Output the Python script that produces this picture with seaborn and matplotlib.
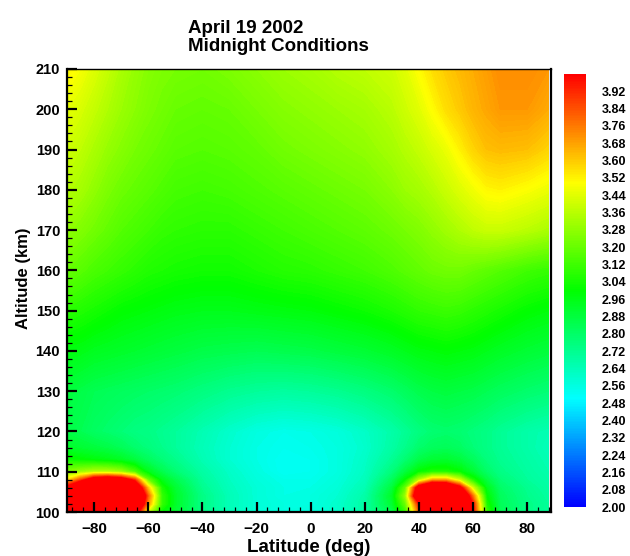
import numpy as np
import matplotlib
matplotlib.use("Agg")
import matplotlib.pyplot as plt
from matplotlib.colors import Normalize
from matplotlib.cm import ScalarMappable
from matplotlib.ticker import MultipleLocator
import seaborn as sns

# Grid nodes
latitudes = [-90, -85, -80, -75, -70, -65, -60, -55, -50, -40, -30, -20, -10, 0,
             10, 20, 30, 35, 40, 45, 50, 55, 60, 65, 70, 80, 87.75]
altitudes = [100, 102, 104, 106, 108, 110, 113, 116, 120, 130, 140, 150, 160,
             170, 180, 190, 200, 210]

# Field values along each altitude level (one entry per latitude node)
lvl_100 = [4.8, 5.0, 5.0, 5.0, 4.8, 4.2, 3.4, 3.0, 2.9, 2.74, 2.64, 2.58, 2.56, 2.57,
           2.6, 2.68, 2.85, 3.1, 3.8, 4.7, 4.8, 4.7, 4.0, 3.1, 2.84, 2.74, 2.70]
lvl_102 = [4.8, 5.0, 5.1, 5.1, 5.0, 4.6, 3.7, 3.1, 2.92, 2.74, 2.64, 2.58, 2.56, 2.56,
           2.6, 2.68, 2.9, 3.2, 3.95, 4.9, 4.9, 4.7, 3.95, 3.05, 2.83, 2.74, 2.70]
lvl_104 = [4.6, 4.9, 5.0, 5.0, 4.9, 4.7, 3.8, 3.1, 2.92, 2.74, 2.64, 2.58, 2.55, 2.56,
           2.59, 2.67, 2.92, 3.3, 4.4, 4.8, 4.8, 4.5, 3.75, 3.0, 2.82, 2.73, 2.69]
lvl_106 = [4.1, 4.5, 4.7, 4.8, 4.7, 4.4, 3.6, 3.05, 2.9, 2.72, 2.63, 2.58, 2.55, 2.55,
           2.58, 2.65, 2.88, 3.2, 4.2, 4.6, 4.5, 4.1, 3.4, 2.95, 2.8, 2.72, 2.68]
lvl_108 = [3.55, 3.85, 4.2, 4.3, 4.2, 3.9, 3.2, 2.95, 2.85, 2.70, 2.62, 2.57, 2.54, 2.54,
           2.57, 2.63, 2.82, 3.0, 3.35, 3.65, 3.65, 3.4, 3.05, 2.87, 2.77, 2.70, 2.67]
lvl_110 = [3.25, 3.30, 3.35, 3.35, 3.30, 3.15, 2.95, 2.85, 2.78, 2.68, 2.61, 2.56, 2.52, 2.53,
           2.56, 2.62, 2.76, 2.88, 3.0, 3.05, 3.05, 3.0, 2.9, 2.8, 2.74, 2.69, 2.66]
lvl_113 = [3.02, 3.0, 2.98, 2.96, 2.93, 2.88, 2.82, 2.77, 2.73, 2.65, 2.59, 2.55, 2.52, 2.53,
           2.56, 2.61, 2.71, 2.78, 2.86, 2.9, 2.91, 2.88, 2.82, 2.76, 2.72, 2.68, 2.65]
lvl_116 = [2.92, 2.90, 2.88, 2.86, 2.83, 2.79, 2.76, 2.73, 2.70, 2.64, 2.59, 2.55, 2.53, 2.54,
           2.56, 2.60, 2.68, 2.73, 2.79, 2.82, 2.83, 2.81, 2.77, 2.74, 2.71, 2.67, 2.64]
lvl_120 = [2.86, 2.84, 2.81, 2.79, 2.77, 2.75, 2.74, 2.72, 2.70, 2.65, 2.60, 2.56, 2.54, 2.55,
           2.57, 2.61, 2.67, 2.71, 2.75, 2.78, 2.79, 2.78, 2.76, 2.74, 2.71, 2.67, 2.65]
lvl_130 = [2.88, 2.86, 2.84, 2.83, 2.82, 2.81, 2.80, 2.79, 2.78, 2.75, 2.72, 2.70, 2.69, 2.70,
           2.72, 2.75, 2.79, 2.82, 2.85, 2.87, 2.88, 2.87, 2.86, 2.84, 2.82, 2.79, 2.77]
lvl_140 = [2.97, 2.96, 2.94, 2.93, 2.92, 2.91, 2.90, 2.89, 2.88, 2.86, 2.85, 2.84, 2.85, 2.86,
           2.88, 2.90, 2.93, 2.95, 2.97, 2.98, 2.99, 2.98, 2.97, 2.95, 2.93, 2.90, 2.88]
lvl_150 = [3.08, 3.06, 3.04, 3.02, 3.0, 2.99, 2.98, 2.97, 2.96, 2.95, 2.95, 2.96, 2.97, 2.98,
           3.0, 3.02, 3.05, 3.07, 3.09, 3.10, 3.11, 3.10, 3.08, 3.06, 3.04, 3.0, 2.98]
lvl_160 = [3.20, 3.17, 3.14, 3.12, 3.10, 3.08, 3.06, 3.05, 3.04, 3.03, 3.03, 3.05, 3.07, 3.08,
           3.10, 3.12, 3.15, 3.17, 3.19, 3.21, 3.22, 3.22, 3.20, 3.18, 3.16, 3.12, 3.10]
lvl_170 = [3.28, 3.25, 3.22, 3.19, 3.16, 3.14, 3.12, 3.10, 3.09, 3.08, 3.08, 3.10, 3.12, 3.14,
           3.16, 3.18, 3.21, 3.23, 3.25, 3.28, 3.31, 3.34, 3.37, 3.39, 3.39, 3.36, 3.33]
lvl_180 = [3.35, 3.32, 3.28, 3.24, 3.21, 3.19, 3.17, 3.15, 3.13, 3.12, 3.13, 3.15, 3.17, 3.19,
           3.21, 3.23, 3.27, 3.30, 3.32, 3.35, 3.39, 3.43, 3.47, 3.51, 3.52, 3.49, 3.46]
lvl_190 = [3.40, 3.37, 3.33, 3.29, 3.26, 3.23, 3.21, 3.19, 3.17, 3.16, 3.17, 3.19, 3.22, 3.24,
           3.26, 3.28, 3.32, 3.35, 3.38, 3.42, 3.46, 3.52, 3.58, 3.62, 3.63, 3.62, 3.58]
lvl_200 = [3.45, 3.42, 3.38, 3.34, 3.30, 3.27, 3.24, 3.22, 3.20, 3.19, 3.20, 3.23, 3.26, 3.28,
           3.30, 3.32, 3.36, 3.40, 3.44, 3.50, 3.56, 3.60, 3.64, 3.67, 3.70, 3.70, 3.66]
lvl_210 = [3.52, 3.48, 3.43, 3.38, 3.33, 3.29, 3.26, 3.24, 3.23, 3.22, 3.24, 3.27, 3.30, 3.32,
           3.35, 3.37, 3.40, 3.44, 3.50, 3.56, 3.60, 3.63, 3.66, 3.69, 3.72, 3.72, 3.70]

levels_rows = [lvl_100, lvl_102, lvl_104, lvl_106, lvl_108, lvl_110, lvl_113, lvl_116,
               lvl_120, lvl_130, lvl_140, lvl_150, lvl_160, lvl_170, lvl_180, lvl_190,
               lvl_200, lvl_210]

# Colour scale
scale_min, scale_max = 2.00, 4.00
scale_ticks = [2.00, 2.08, 2.16, 2.24, 2.32, 2.40, 2.48, 2.56, 2.64, 2.72, 2.80, 2.88,
               2.96, 3.04, 3.12, 3.20, 3.28, 3.36, 3.44, 3.52, 3.60, 3.68, 3.76, 3.84, 3.92]

title_lines = ["April 19 2002", "Midnight Conditions"]

sns.set_style("white")
plt.rcParams["font.family"] = ["Liberation Sans", "DejaVu Sans"]
plt.rcParams["font.weight"] = "bold"
plt.rcParams["text.color"] = "black"
plt.rcParams["axes.labelcolor"] = "black"
plt.rcParams["xtick.color"] = "black"
plt.rcParams["ytick.color"] = "black"

cmap = sns.blend_palette(["#0000ff", "#00ffff", "#00ff00", "#ffff00", "#ff0000"],
                         as_cmap=True)

fig = plt.figure(figsize=(6.30, 5.56), dpi=100)
ax = fig.add_axes([67 / 630, 1 - 512 / 556, 484 / 630, 443 / 556])
cax = fig.add_axes([564 / 630, 1 - 507 / 556, 22 / 630, 433 / 556])

field = np.array(levels_rows)
lat_grid, alt_grid = np.meshgrid(latitudes, altitudes)
fill_levels = np.linspace(scale_min, scale_max, 201)
ax.contourf(lat_grid, alt_grid, field, levels=fill_levels, cmap=cmap,
            extend="both", antialiased=False, zorder=1)

ax.set_axisbelow(False)
ax.set_xlim(-90, 88.75)
ax.set_ylim(100, 210)
ax.set_facecolor("white")

ax.xaxis.set_major_locator(MultipleLocator(20))
ax.xaxis.set_minor_locator(MultipleLocator(4))
ax.yaxis.set_major_locator(MultipleLocator(10))
ax.yaxis.set_minor_locator(MultipleLocator(2))
ax.tick_params(axis="both", which="major", direction="in", length=7, width=1.6,
               color="black", labelcolor="black", bottom=True, left=True,
               top=False, right=False)
ax.tick_params(axis="both", which="minor", direction="in", length=3.5, width=0.9,
               color="black", bottom=True, left=True, top=False, right=False)
ax.tick_params(axis="x", which="major", labelsize=11, pad=7)
ax.tick_params(axis="y", which="major", labelsize=10.5, pad=5)
for lab in ax.get_xticklabels() + ax.get_yticklabels():
    lab.set_fontweight("bold")

for side in ["left", "bottom", "top", "right"]:
    ax.spines[side].set_visible(True)
    ax.spines[side].set_color("black")
    ax.spines[side].set_linewidth(1.6)
    ax.spines[side].set_zorder(3)
ax.spines["top"].set_linewidth(1.0)

ax.set_xlabel("Latitude (deg)", fontsize=13.5, fontweight="bold", color="black")
ax.set_ylabel("Altitude (km)", fontsize=12, fontweight="bold", color="black")
ax.yaxis.set_label_coords(-0.075, 0.528)
ax.xaxis.set_label_coords(0.5, -0.06)

sm = ScalarMappable(norm=Normalize(scale_min, scale_max), cmap=cmap)
cb = fig.colorbar(sm, cax=cax)
cb.outline.set_visible(False)
cb.set_ticks(scale_ticks)
cb.set_ticklabels([f"{t:.2f}" for t in scale_ticks])
cax.tick_params(length=0, labelsize=9, pad=11, labelcolor="black")
for lab in cax.get_yticklabels():
    lab.set_fontweight("bold")

fig.text(188 / 630, 1 - 20 / 556, "\n".join(title_lines), ha="left", va="top",
         fontsize=13.5, fontweight="bold", linespacing=1.05, color="black")

fig.savefig("out.png", dpi=100)
